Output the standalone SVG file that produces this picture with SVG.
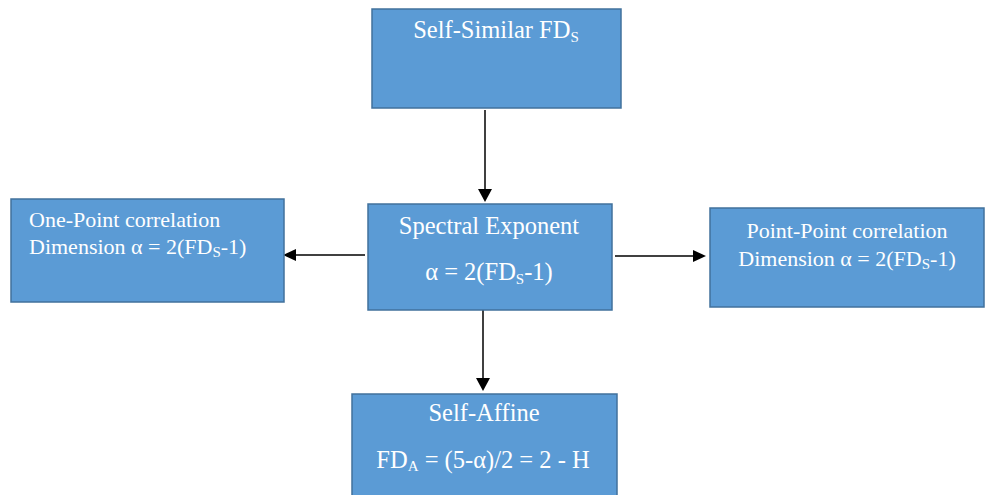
<svg xmlns="http://www.w3.org/2000/svg" width="987" height="495" viewBox="0 0 987 495">
<defs>
<style>
.box{fill:#5b9bd5;stroke:#41719c;stroke-width:1.5}
.t{font-family:"Liberation Serif","Times New Roman",serif;fill:#ffffff}
.big{font-size:24.5px}
.small{font-size:22px}
.sub{font-size:15px}
</style>
</defs>
<rect width="987" height="495" fill="#ffffff"/>
<g id="connectors">
<line x1="485" y1="110" x2="485" y2="189" stroke="#000" stroke-width="1.5"/>
<path d="M478,189 L492,189 L485,202 z" fill="#000"/>
<line x1="365" y1="255" x2="296" y2="255" stroke="#000" stroke-width="1.5"/>
<path d="M296,249 L296,261 L283,255 z" fill="#000"/>
<line x1="615" y1="256" x2="693" y2="256" stroke="#000" stroke-width="1.5"/>
<path d="M693,250 L693,262 L706,256 z" fill="#000"/>
<line x1="483" y1="310" x2="483" y2="378" stroke="#000" stroke-width="1.5"/>
<path d="M476,378 L490,378 L483,391 z" fill="#000"/>
</g>
<g id="self-similar">
<rect class="box" x="372" y="9" width="249" height="99"/>
<text class="t big" x="496" y="38" text-anchor="middle">Self-Similar FD<tspan class="sub" dy="4">S</tspan></text>
</g>
<g id="one-point">
<rect class="box" x="11" y="199" width="273" height="103"/>
<text class="t small" x="29" y="227">One-Point correlation</text>
<text class="t small" x="29" y="254">Dimension α = 2(FD<tspan class="sub" dy="3">S</tspan><tspan dy="-3">-1)</tspan></text>
</g>
<g id="spectral">
<rect class="box" x="368" y="204" width="244" height="106"/>
<text class="t big" x="489" y="234" text-anchor="middle">Spectral Exponent</text>
<text class="t big" x="489" y="280" text-anchor="middle">α = 2(FD<tspan class="sub" dy="4">S</tspan><tspan dy="-4">-1)</tspan></text>
</g>
<g id="point-point">
<rect class="box" x="710" y="208" width="274" height="99"/>
<text class="t small" x="847" y="238" text-anchor="middle">Point-Point correlation</text>
<text class="t small" x="847" y="266" text-anchor="middle">Dimension α = 2(FD<tspan class="sub" dy="3">S</tspan><tspan dy="-3">-1)</tspan></text>
</g>
<g id="self-affine">
<rect class="box" x="352" y="394" width="265" height="110"/>
<text class="t big" x="484" y="421" text-anchor="middle">Self-Affine</text>
<text class="t big" x="483" y="468" text-anchor="middle">FD<tspan class="sub" dy="3">A</tspan><tspan dy="-3"> = (5-α)/2 = 2 - H</tspan></text>
</g>
</svg>
